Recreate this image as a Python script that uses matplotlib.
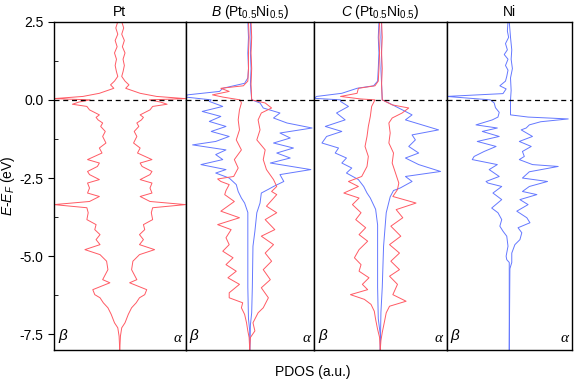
import matplotlib
matplotlib.use("Agg")
import matplotlib.pyplot as plt
from matplotlib.ticker import MultipleLocator

# Fonts: Arial-like text, Times-like Greek labels
plt.rcParams["font.family"] = ["Liberation Sans", "DejaVu Sans"]
plt.rcParams["mathtext.fontset"] = "custom"
plt.rcParams["mathtext.rm"] = "Liberation Sans"
plt.rcParams["mathtext.it"] = "Liberation Sans:italic"

RED = "#ff5a64"
BLUE = "#6478ff"

# PDOS curves: (energy in eV, PDOS in a.u.)
# beta goes to the left, alpha to the right

pt_curve = [(2.5, 0.03), (2.3, 0.06), (2.1, 0.03), (1.9, 0.07), (1.7, 0.04), (1.5, 0.08),
            (1.3, 0.05), (1.1, 0.07), (0.9, 0.05), (0.75, 0.03), (0.6, 0.08), (0.48, 0.14),
            (0.37, 0.09), (0.21, 0.31), (0.11, 0.56), (0.04, 1.0), (0.0, 0.45), (-0.07, 0.62),
            (-0.14, 0.72), (-0.21, 0.5), (-0.32, 0.46), (-0.48, 0.31), (-0.56, 0.36), (-0.64, 0.33),
            (-0.74, 0.26), (-0.85, 0.29), (-1.01, 0.22), (-1.17, 0.26), (-1.38, 0.21), (-1.54, 0.31),
            (-1.70, 0.27), (-1.91, 0.49), (-2.02, 0.31), (-2.13, 0.34), (-2.29, 0.49), (-2.39, 0.46),
            (-2.55, 0.31), (-2.66, 0.49), (-2.82, 0.46), (-2.98, 0.49), (-3.09, 0.31), (-3.25, 0.46),
            (-3.35, 1.0), (-3.45, 0.5), (-3.61, 0.48), (-3.83, 0.5), (-3.99, 0.36), (-4.15, 0.38),
            (-4.31, 0.3), (-4.47, 0.36), (-4.63, 0.3), (-4.79, 0.53), (-4.95, 0.3), (-5.16, 0.2),
            (-5.43, 0.18), (-5.75, 0.26), (-5.85, 0.15), (-6.07, 0.41), (-6.23, 0.38), (-6.33, 0.3),
            (-6.49, 0.25), (-6.65, 0.18), (-6.86, 0.13), (-7.13, 0.08), (-7.29, 0.03), (-7.56, 0.01),
            (-8.0, 0.0)]

b_ni_beta = [(2.5, 0.03), (2.0, 0.02), (1.5, 0.03), (1.0, 0.02), (0.7, 0.03), (0.53, 0.08),
             (0.37, 0.42), (0.27, 0.47), (0.16, 0.97), (0.09, 1.0), (0.0, 0.6), (-0.05, 0.63),
             (-0.21, 0.42), (-0.37, 0.74), (-0.53, 0.45), (-0.69, 0.63), (-0.85, 0.37), (-1.01, 0.6),
             (-1.17, 0.32), (-1.33, 0.53), (-1.44, 0.89), (-1.6, 0.37), (-1.75, 0.53), (-1.91, 0.42),
             (-2.07, 0.76), (-2.23, 0.37), (-2.34, 0.53), (-2.5, 0.32), (-2.71, 0.21), (-2.93, 0.18),
             (-3.14, 0.13), (-3.3, 0.08), (-3.6, 0.03), (-4.5, 0.03), (-6.0, 0.03), (-7.0, 0.02),
             (-7.4, 0.0), (-8.0, 0.0)]
b_pt_beta = [(2.5, 0.02), (2.0, 0.01), (1.5, 0.02), (1.0, 0.02), (0.6, 0.03), (0.45, 0.1),
             (0.37, 0.45), (0.27, 0.32), (0.16, 0.58), (0.09, 0.42), (0.0, 0.15), (-0.1, 0.13),
             (-0.32, 0.16), (-0.64, 0.18), (-0.96, 0.16), (-1.28, 0.21), (-1.6, 0.13), (-1.91, 0.24),
             (-2.18, 0.18), (-2.45, 0.25), (-2.53, 0.5), (-2.61, 0.45), (-2.71, 0.32), (-2.9, 0.37),
             (-3.03, 0.39), (-3.25, 0.24), (-3.56, 0.45), (-3.77, 0.16), (-3.99, 0.5), (-4.15, 0.29),
             (-4.41, 0.37), (-4.63, 0.32), (-4.84, 0.42), (-5.05, 0.26), (-5.27, 0.37), (-5.48, 0.21),
             (-5.69, 0.34), (-5.9, 0.16), (-6.17, 0.32), (-6.33, 0.32), (-6.49, 0.11), (-6.65, 0.13),
             (-6.86, 0.08), (-7.13, 0.05), (-7.39, 0.03), (-7.6, 0.01), (-8.0, 0.0)]
b_ni_alpha = [(2.5, 0.01), (2.0, 0.02), (1.5, 0.01), (1.0, 0.02), (0.5, 0.01), (0.0, 0.03),
              (-0.1, 0.16), (-0.26, 0.21), (-0.42, 0.47), (-0.58, 0.37), (-0.74, 0.58), (-0.9, 0.97),
              (-1.06, 0.47), (-1.22, 0.63), (-1.38, 0.37), (-1.54, 0.68), (-1.7, 0.42), (-1.86, 0.63),
              (-2.02, 0.32), (-2.23, 0.95), (-2.39, 0.47), (-2.61, 0.53), (-2.77, 0.37), (-2.85, 0.3),
              (-2.98, 0.18), (-3.3, 0.16), (-3.61, 0.11), (-4.2, 0.08), (-4.68, 0.05), (-6.0, 0.04),
              (-6.81, 0.03), (-7.2, 0.01), (-8.0, 0.0)]
b_pt_alpha = [(2.5, 0.02), (2.0, 0.03), (1.5, 0.02), (1.0, 0.03), (0.5, 0.02), (0.0, 0.03),
              (-0.1, 0.24), (-0.26, 0.34), (-0.42, 0.18), (-0.64, 0.13), (-0.96, 0.16), (-1.28, 0.11),
              (-1.6, 0.24), (-1.91, 0.21), (-2.23, 0.26), (-2.55, 0.37), (-2.77, 0.42), (-2.93, 0.34),
              (-3.03, 0.42), (-3.4, 0.26), (-3.61, 0.42), (-3.83, 0.24), (-4.15, 0.39), (-4.36, 0.18),
              (-4.63, 0.37), (-4.9, 0.24), (-5.16, 0.34), (-5.43, 0.21), (-5.75, 0.32), (-6.01, 0.18),
              (-6.33, 0.29), (-6.65, 0.21), (-6.81, 0.13), (-7.13, 0.05), (-7.39, 0.08), (-7.6, 0.01),
              (-8.0, 0.0)]

c_ni_beta = [(2.5, 0.02), (2.0, 0.03), (1.5, 0.02), (1.0, 0.03), (0.6, 0.04), (0.45, 0.1),
             (0.37, 0.35), (0.21, 0.58), (0.11, 0.96), (0.05, 1.0), (0.0, 0.6), (-0.05, 0.6),
             (-0.21, 0.48), (-0.42, 0.66), (-0.64, 0.53), (-0.85, 0.83), (-1.01, 0.58), (-1.17, 0.81),
             (-1.38, 0.88), (-1.54, 0.63), (-1.70, 0.68), (-1.86, 0.51), (-2.02, 0.58), (-2.18, 0.43),
             (-2.34, 0.51), (-2.55, 0.33), (-2.77, 0.25), (-2.98, 0.2), (-3.14, 0.15), (-3.5, 0.07),
             (-4.0, 0.04), (-6.0, 0.04), (-7.0, 0.03), (-7.5, 0.0), (-8.0, 0.0)]
c_pt_beta = [(2.5, 0.01), (2.0, 0.02), (1.5, 0.01), (1.0, 0.02), (0.6, 0.03), (0.45, 0.08),
             (0.37, 0.33), (0.21, 0.35), (0.11, 0.6), (0.03, 0.3), (0.0, 0.08), (-0.21, 0.13),
             (-0.53, 0.15), (-0.85, 0.18), (-1.17, 0.2), (-1.49, 0.23), (-1.81, 0.18), (-2.13, 0.2),
             (-2.45, 0.28), (-2.61, 0.48), (-2.77, 0.33), (-2.98, 0.55), (-3.14, 0.32), (-3.35, 0.42),
             (-3.61, 0.29), (-3.83, 0.37), (-4.09, 0.22), (-4.31, 0.32), (-4.52, 0.19), (-4.79, 0.32),
             (-5.05, 0.39), (-5.27, 0.29), (-5.48, 0.32), (-5.69, 0.17), (-5.9, 0.27), (-6.07, 0.19),
             (-6.23, 0.45), (-6.38, 0.24), (-6.54, 0.14), (-6.76, 0.09), (-7.02, 0.07), (-7.34, 0.04),
             (-7.6, 0.01), (-8.0, 0.0)]
c_ni_alpha = [(2.5, 0.02), (2.0, 0.01), (1.5, 0.02), (1.0, 0.01), (0.5, 0.02), (0.0, 0.03),
              (-0.1, 0.13), (-0.37, 0.38), (-0.48, 0.48), (-0.64, 0.38), (-0.8, 0.63), (-0.96, 0.88),
              (-1.12, 0.48), (-1.28, 0.53), (-1.49, 0.43), (-1.70, 0.58), (-1.86, 0.38), (-2.07, 0.58),
              (-2.29, 0.91), (-2.45, 0.38), (-2.61, 0.48), (-2.82, 0.3), (-2.9, 0.2), (-3.1, 0.15),
              (-3.61, 0.09), (-4.68, 0.05), (-6.0, 0.03), (-6.8, 0.01), (-8.0, 0.0)]
c_pt_alpha = [(2.5, 0.02), (2.0, 0.03), (1.5, 0.02), (1.0, 0.03), (0.5, 0.02), (0.0, 0.03),
              (-0.16, 0.18), (-0.26, 0.43), (-0.42, 0.33), (-0.58, 0.18), (-0.74, 0.13), (-1.06, 0.15),
              (-1.38, 0.13), (-1.70, 0.2), (-2.02, 0.18), (-2.34, 0.23), (-2.66, 0.28), (-2.87, 0.26),
              (-3.09, 0.19), (-3.3, 0.54), (-3.51, 0.24), (-3.77, 0.34), (-4.04, 0.16), (-4.36, 0.31),
              (-4.63, 0.14), (-4.9, 0.29), (-5.16, 0.16), (-5.43, 0.29), (-5.64, 0.14), (-5.9, 0.26),
              (-6.23, 0.19), (-6.44, 0.39), (-6.6, 0.14), (-6.81, 0.09), (-7.13, 0.06), (-7.44, 0.03),
              (-7.7, 0.01), (-8.0, 0.0)]

ni_beta = [(2.5, 0.02), (2.2, 0.03), (2.0, 0.01), (1.8, 0.06), (1.6, 0.03), (1.45, 0.08),
           (1.3, 0.02), (1.1, 0.06), (0.95, 0.02), (0.75, 0.04), (0.6, 0.06), (0.45, 0.15),
           (0.35, 0.05), (0.2, 0.1), (0.11, 1.0), (0.0, 0.3), (-0.1, 0.24), (-0.25, 0.22),
           (-0.4, 0.16), (-0.55, 0.18), (-0.64, 0.27), (-0.8, 0.53), (-0.9, 0.19), (-1.01, 0.43),
           (-1.17, 0.16), (-1.33, 0.51), (-1.49, 0.21), (-1.65, 0.4), (-1.81, 0.56), (-1.91, 0.59),
           (-2.07, 0.19), (-2.23, 0.32), (-2.45, 0.16), (-2.61, 0.37), (-2.66, 0.34), (-2.77, 0.12),
           (-2.98, 0.26), (-3.19, 0.12), (-3.46, 0.28), (-3.61, 0.18), (-3.83, 0.12), (-4.04, 0.15),
           (-4.2, 0.1), (-4.36, 0.04), (-4.68, 0.02), (-5.0, 0.05), (-5.11, 0.04), (-5.2, 0.0),
           (-8.0, 0.0)]
ni_alpha = [(2.5, 0.0), (2.0, 0.02), (1.6, 0.04), (1.3, 0.03), (1.0, 0.05), (0.7, 0.02),
            (0.3, 0.03), (0.0, 0.02), (-0.48, 0.02), (-0.55, 0.3), (-0.61, 0.94), (-0.7, 0.5),
            (-0.8, 0.32), (-0.9, 0.27), (-0.96, 0.19), (-1.17, 0.37), (-1.33, 0.16), (-1.49, 0.35),
            (-1.65, 0.21), (-1.81, 0.24), (-1.91, 0.16), (-2.07, 0.37), (-2.13, 0.78), (-2.3, 0.32),
            (-2.5, 0.21), (-2.61, 0.61), (-2.77, 0.32), (-2.93, 0.21), (-3.03, 0.44), (-3.19, 0.17),
            (-3.35, 0.3), (-3.56, 0.12), (-3.77, 0.28), (-3.93, 0.33), (-4.09, 0.14), (-4.25, 0.2),
            (-4.47, 0.17), (-4.63, 0.09), (-4.9, 0.04), (-5.2, 0.04), (-5.4, 0.01), (-8.0, 0.0)]

panel_titles = ["Pt", "$B$ (Pt$_{0.5}$Ni$_{0.5}$)", "$C$ (Pt$_{0.5}$Ni$_{0.5}$)", "Ni"]

# (beta curve, alpha curve, colour) for each panel
panels = [
    [(pt_curve, pt_curve, RED)],
    [(b_ni_beta, b_ni_alpha, BLUE), (b_pt_beta, b_pt_alpha, RED)],
    [(c_ni_beta, c_ni_alpha, BLUE), (c_pt_beta, c_pt_alpha, RED)],
    [(ni_beta, ni_alpha, BLUE)],
]


def plot_side(ax, curve, sign, color):
    e = [p[0] for p in curve]
    v = [sign * p[1] for p in curve]
    ax.plot(v, e, color=color, lw=0.7)


fig = plt.figure(figsize=(5.74, 3.85), dpi=100)
gs = fig.add_gridspec(1, 4, left=54 / 574, right=572 / 574, top=1 - 21.7 / 385,
                      bottom=1 - 350 / 385, wspace=0, width_ratios=[131, 128, 132, 125])

for i, (title, curves) in enumerate(zip(panel_titles, panels)):
    ax = fig.add_subplot(gs[0, i])
    for beta, alpha, color in curves:
        plot_side(ax, beta, -1, color)
        plot_side(ax, alpha, 1, color)
    ax.axhline(0, color="black", ls=(0, (4, 3)), lw=0.9, zorder=5)
    ax.set_xlim(-1, 1)
    ax.set_ylim(-8.0, 2.5)
    ax.set_xticks([])
    ax.set_title(title, fontsize=10, pad=4)
    for s in ax.spines.values():
        s.set_linewidth(1.0)
    ax.text(0.03, 0.015, r"$\beta$", transform=ax.transAxes, fontsize=11,
            ha="left", va="bottom", family="Liberation Serif", style="italic")
    ax.text(0.97, 0.015, "α", transform=ax.transAxes, fontsize=11,
            ha="right", va="bottom", family="Liberation Serif", style="italic")
    if i == 0:
        ax.yaxis.set_major_locator(MultipleLocator(2.5))
        ax.yaxis.set_minor_locator(MultipleLocator(1.25))
        ax.tick_params(axis="y", which="major", direction="out", length=4, labelsize=10)
        ax.tick_params(axis="y", which="minor", direction="in", length=3)
        ax.yaxis.set_major_formatter(plt.FormatStrFormatter("%.1f"))
        ax.set_ylabel("$E$-$E_F$ (eV)", fontsize=10, labelpad=2)
    else:
        ax.set_yticks([])

fig.text((54 + 572) / 2 / 574, 1 - 372 / 385, "PDOS (a.u.)", ha="center", va="center", fontsize=10)

plt.savefig("out.png", dpi=100)
plt.close()
